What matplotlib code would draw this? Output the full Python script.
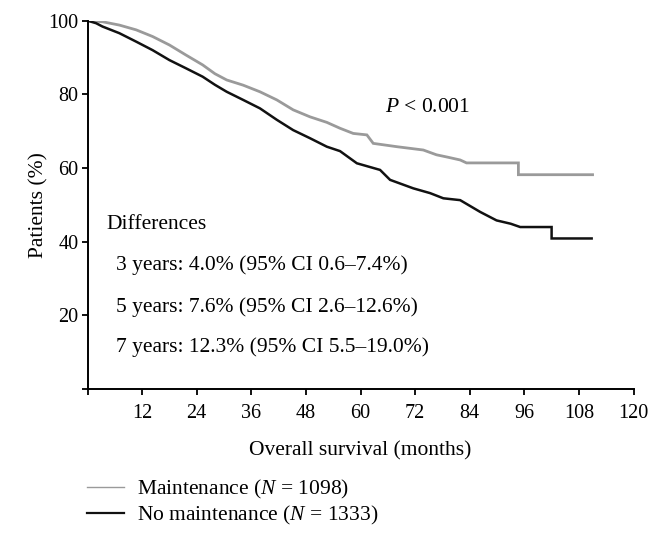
import matplotlib
matplotlib.use("Agg")
import matplotlib.pyplot as plt

# Serif text with italic math letters from the same family
plt.rcParams["font.family"] = ["Liberation Serif", "DejaVu Serif"]
plt.rcParams["mathtext.fontset"] = "custom"
plt.rcParams["mathtext.rm"] = "Liberation Serif"
plt.rcParams["mathtext.it"] = "Liberation Serif:italic"

# Kaplan-Meier curves (months, % alive)
maint_months = [0, 3.3, 7.0, 10.7, 14.3, 18.0, 21.6, 25.3, 28.0, 30.6, 34.2,
                37.9, 41.6, 45.2, 48.9, 52.6, 55.5, 58.4, 61.4, 62.8, 68.0,
                73.8, 76.7, 79.0, 81.9, 83.3, 94.7, 94.7, 111]
maint_surv = [100, 99.7, 98.8, 97.5, 95.7, 93.4, 90.7, 88.0, 85.6, 83.9, 82.5,
              80.7, 78.5, 75.8, 73.9, 72.4, 70.8, 69.4, 69.0, 66.7, 65.8,
              64.9, 63.6, 63.0, 62.2, 61.4, 61.4, 58.2, 58.2]

nomaint_months = [0, 1.9, 3.3, 7.0, 10.7, 14.3, 18.0, 21.6, 25.3, 28.0, 30.6,
                  34.2, 37.9, 41.6, 45.2, 48.9, 52.6, 55.5, 59.2, 64.3, 66.5,
                  71.6, 75.3, 78.2, 81.9, 86.3, 89.9, 93.0, 95.1, 102, 102,
                  110.8]
nomaint_surv = [100, 99.3, 98.4, 96.6, 94.3, 92.0, 89.3, 87.1, 84.8, 82.6, 80.7,
                78.5, 76.2, 73.1, 70.3, 68.1, 65.8, 64.6, 61.3, 59.5, 56.8,
                54.5, 53.2, 51.8, 51.3, 48.1, 45.8, 44.9, 44.0, 44.0, 40.9,
                40.9]

x_ticks = [12, 24, 36, 48, 60, 72, 84, 96, 108, 120]
y_ticks = [20, 40, 60, 80, 100]

diff_lines = [
    "3 years: 4.0% (95% CI 0.6\u20137.4%)",
    "5 years: 7.6% (95% CI 2.6\u201312.6%)",
    "7 years: 12.3% (95% CI 5.5\u201319.0%)",
]

TXT = 15.5

fig = plt.figure(figsize=(6.61, 5.38), dpi=100)
ax = fig.add_axes([0.1324, 0.2766, 0.826, 0.685])

ax.plot(maint_months, maint_surv, color="#9a9a9a", lw=2.0,
        solid_joinstyle="miter", label="Maintenance ($N$ = 1098)")
ax.plot(nomaint_months, nomaint_surv, color="#111111", lw=1.8,
        solid_joinstyle="miter", label="No maintenance ($N$ = 1333)")

ax.set_xlim(0, 120)
ax.set_ylim(0, 100)
ax.set_xticks([0] + x_ticks)
ax.set_xticklabels([""] + [str(t) for t in x_ticks])
ax.set_yticks([0] + y_ticks)
ax.set_yticklabels([""] + [str(t) for t in y_ticks])

for side in ["top", "right"]:
    ax.spines[side].set_visible(False)
for side in ["left", "bottom"]:
    ax.spines[side].set_linewidth(1.4)
ax.tick_params(axis="both", direction="out", length=4.5, width=1.4,
               labelsize=14.5, color="#111111")
ax.tick_params(axis="x", pad=6)
ax.tick_params(axis="y", pad=2)

ax.set_xlabel("Overall survival (months)", fontsize=TXT, labelpad=13)
ax.set_ylabel("Patients (%)", fontsize=TXT, labelpad=0)

ax.text(65.4, 76.5, "$P$ < 0.001", fontsize=TXT, va="center", ha="left")
ax.text(4.1, 44.6, "Differences", fontsize=TXT, va="center", ha="left")
for yv, line in zip([33.7, 22.3, 11.5], diff_lines):
    ax.text(6.2, yv, line, fontsize=TXT, va="center", ha="left")

leg = ax.legend(loc="upper left", bbox_to_anchor=(0.131, 0.112),
                bbox_transform=fig.transFigure, frameon=False, fontsize=TXT,
                borderpad=0, borderaxespad=0, handlelength=1.75,
                handletextpad=0.6, labelspacing=0.15)
for h, w in zip(leg.get_lines(), [1.0, 1.6]):
    h.set_linewidth(w)

fig.savefig("out.png", dpi=100)
